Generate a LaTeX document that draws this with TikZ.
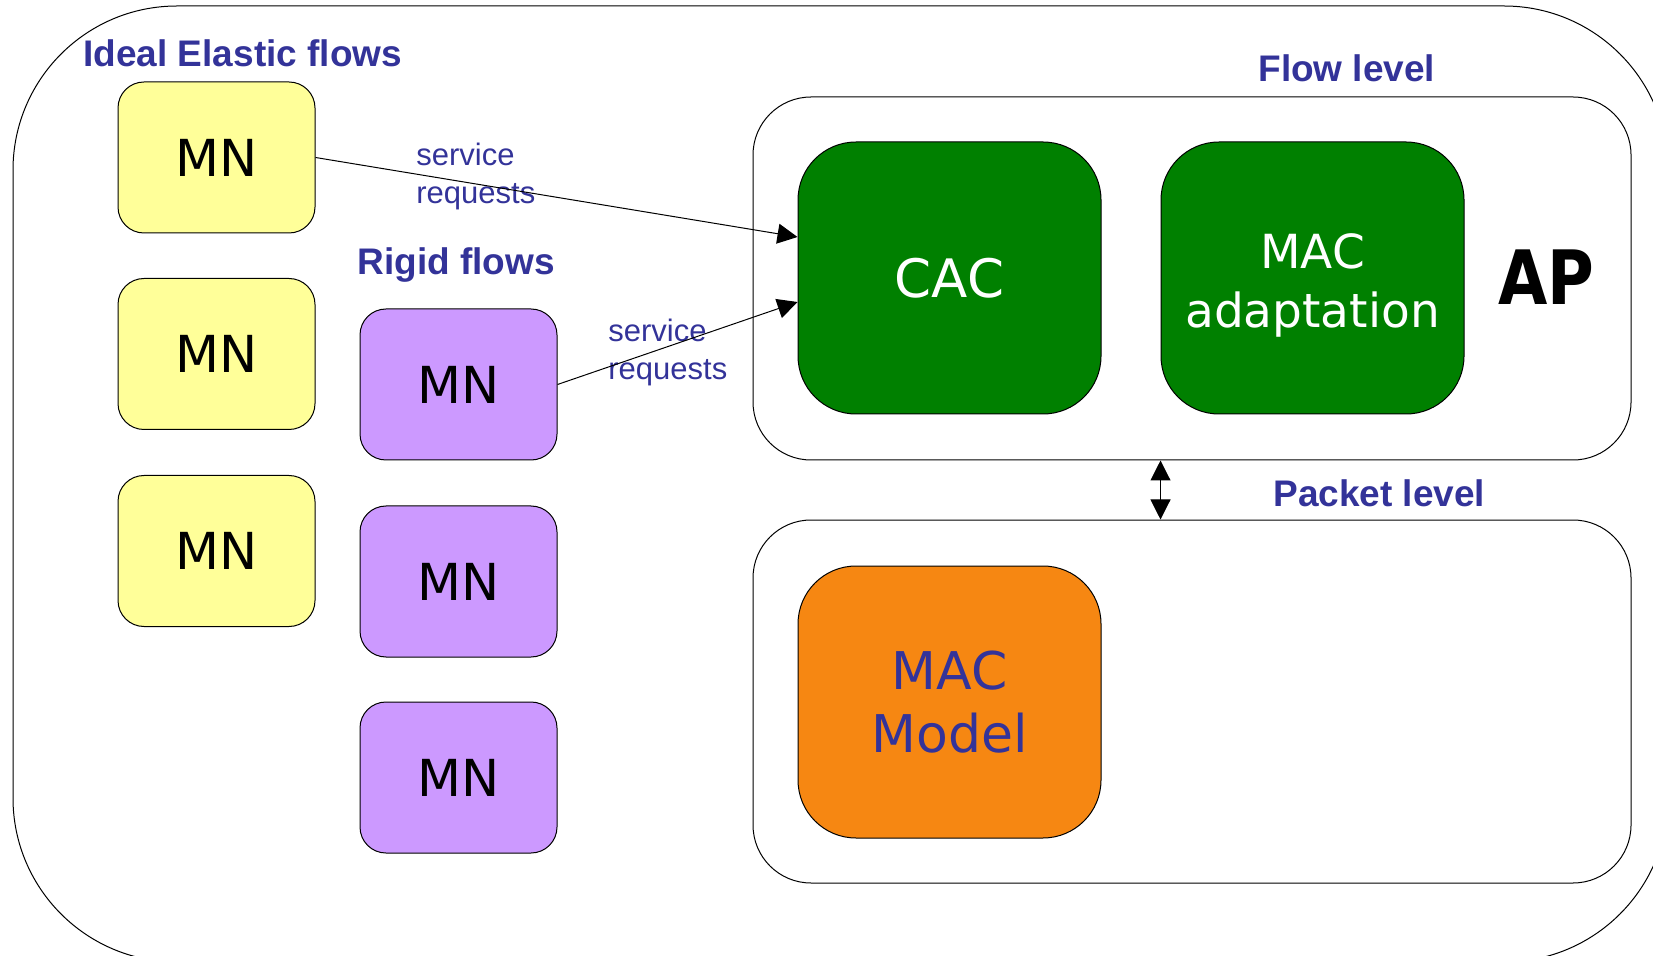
\documentclass[tikz,border=0pt]{standalone}
\usepackage{fontspec}
\setmainfont{Liberation Sans}
\newfontfamily\vfont{DejaVu Sans}
\newfontfamily\apfont[FakeStretch=0.85]{DejaVu Sans}
\usetikzlibrary{arrows.meta}
\definecolor{hdrblue}{HTML}{333399}
\definecolor{mnyellow}{HTML}{FFFF99}
\definecolor{mnpurple}{HTML}{CC99FF}
\definecolor{boxgreen}{HTML}{008000}
\definecolor{boxorange}{HTML}{F68712}
\begin{document}
\begin{tikzpicture}[x=0.5pt, y=-0.5pt,
  mnbox/.style={draw, line width=0.5pt, rounded corners=13pt, minimum width=98.5pt,
    minimum height=75.5pt, inner sep=0pt, font=\vfont\fontsize{25.5}{30}\selectfont},
  elastic/.style={mnbox, fill=mnyellow},
  rigid/.style={mnbox, fill=mnpurple},
  func/.style={draw, line width=0.5pt, rounded corners=29pt, minimum width=151.5pt,
    minimum height=136pt, inner sep=0pt, align=center},
  levelbox/.style={draw, line width=0.5pt, rounded corners=29pt, minimum width=439pt,
    minimum height=181.5pt, inner sep=0pt},
  hdr/.style={text=hdrblue, font=\bfseries\fontsize{18.5}{22}\selectfont, inner sep=0pt,
    anchor=base west},
  req/.style={text=hdrblue, font=\fontsize{15.5}{19}\selectfont, align=left,
    inner sep=0pt, anchor=west},
  arr/.style={-{Triangle[length=10pt,width=10pt]}, line width=0.5pt},
  dbl/.style={{Triangle[length=10pt,width=10pt]}-{Triangle[length=10pt,width=10pt]}, line width=0.5pt}
]
\useasboundingbox (0,0) rectangle (1653,956);
\clip (0,0) rectangle (1653,956);
% outer frame
\draw[line width=0.5pt, rounded corners=82pt] (13,6) rectangle (1668,962);

% level boxes
\node[levelbox] (flow) at (1192,278.5) {};
\node[levelbox] (packet) at (1192,701.5) {};

% headers
\node[hdr] (hElastic) at (83,67) {Ideal Elastic flows};
\node[hdr] (hRigid) at (357,275) {Rigid flows};
\node[hdr] (hFlow) at (1258,82) {Flow level};
\node[hdr] (hPacket) at (1273,507) {Packet level};

% mobile nodes
\node[elastic] (e1) at (216.5,157.5) {MN};
\node[elastic] (e2) at (216.5,354) {MN};
\node[elastic] (e3) at (216.5,551) {MN};
\node[rigid] (r1) at (458.5,384.5) {MN};
\node[rigid] (r2) at (458.5,581.5) {MN};
\node[rigid] (r3) at (458.5,777.5) {MN};

% functional blocks
\node[func, fill=boxgreen, text=white, font=\vfont\fontsize{26.5}{30}\selectfont] (cac) at (949.5,278) {CAC};
\node[func, fill=boxgreen, text=white, text height=54.5pt, font=\vfont\fontsize{23.5}{29.5}\selectfont] (macad) at (1312.5,278) {MAC\\adaptation};
\node[func, fill=boxorange, text=hdrblue, font=\vfont\fontsize{26}{31.5}\selectfont] (macmodel) at (949.5,702) {MAC\\Model};
\node[inner sep=0pt, font=\apfont\bfseries\fontsize{37.5}{42}\selectfont] (ap) at (1546.5,277) {AP};

% request labels
\node[req] (req1) at (416,176) {service\\requests};
\node[req] (req2) at (608,352) {service\\requests};

% connectors
\coordinate (in1) at (cac.west |- 0,237);
\coordinate (in2) at (cac.west |- 0,302);
\draw[arr] (e1.east) -- (in1);
\draw[arr] (r1.east) -- (in2);
\draw[dbl] (macad.west |- flow.south) -- (macad.west |- packet.north);
\end{tikzpicture}
\end{document}
